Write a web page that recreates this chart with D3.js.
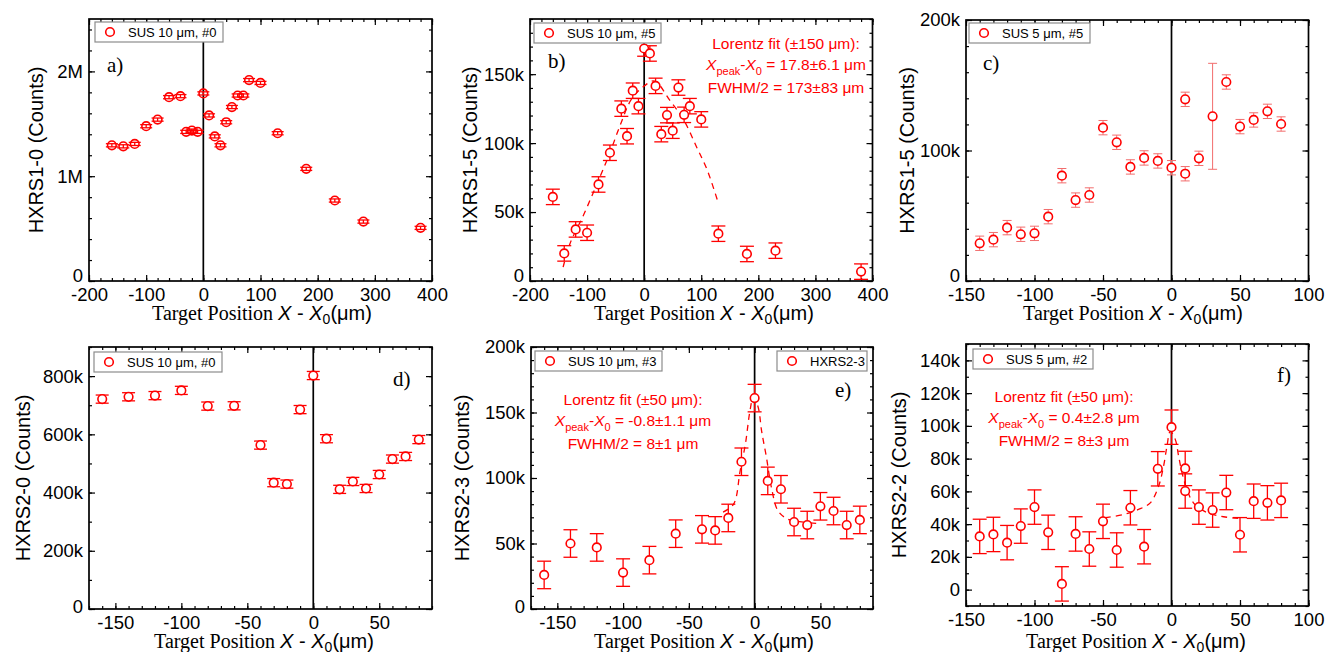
<!DOCTYPE html>
<html>
<head>
<meta charset="utf-8">
<script src="https://cdn.jsdelivr.net/npm/d3@7"></script>
<style>
  body { margin: 0; background: #fff; }
</style>
</head>
<body>
<div id="chart"></div>
<script>
// ---- data (counts in thousands) ----
var aX = [-160, -140, -120, -100, -80, -60, -40, -30, -20, -10, 0, 10, 20, 30, 40, 50, 60, 70, 80, 100, 130, 180, 230, 280, 380];
var aY = [1295, 1285, 1308, 1477, 1540, 1754, 1764, 1423, 1435, 1423, 1790, 1580, 1380, 1295, 1515, 1660, 1770, 1770, 1917, 1890, 1410, 1070, 768, 567, 507];
var aErr = 15;

var bX = [-160, -140, -120, -100, -80, -60, -40, -30, -20, -10, 0, 10, 20, 30, 40, 50, 60, 70, 80, 100, 130, 180, 230, 380];
var bY = [61, 20, 37.4, 35, 70, 93, 125, 105, 138, 126.8, 168.6, 165, 141.5, 106.5, 120.3, 109, 140.3, 120.5, 126.8, 117.2, 34.3, 19.6, 22, 6.8];
var bErr = 5.6;
var bFitX = [-142, -130, -106, -77, -60, -42, -22, -1, 18, 45, 69, 92, 110, 128];
var bFitY = [10, 27, 48, 76, 93, 113, 132, 141, 145, 131, 117, 97, 81, 59];

var cX = [-140, -130, -120, -110, -100, -90, -80, -70, -60, -50, -40, -30, -20, -10, 0, 10, 10, 20, 30, 40, 50, 60, 70, 80];
var cY = [28.9, 31.7, 40.9, 35.8, 36.5, 49.3, 80.7, 62, 65.9, 117.5, 106.3, 87.4, 94.3, 92, 86.8, 82.2, 139.2, 94, 126.2, 152.5, 118.3, 123.4, 130, 120.3];
var cErr = [5.5, 5.5, 5.5, 5.5, 5.5, 5.5, 5.5, 5.5, 5.5, 5.5, 5.5, 5.5, 5.5, 5.5, 5.5, 5.5, 5.5, 5.5, 40.6, 5.5, 5.5, 5.5, 5.5, 5.5];

var dX = [-160, -140, -120, -100, -80, -60, -40, -30, -20, -10, 0, 10, 20, 30, 40, 50, 60, 70, 80];
var dY = [721, 729, 733, 751, 697, 698, 563, 434, 429, 685, 802, 585, 411, 438, 414, 462, 515, 524, 582];
var dErr = 14;

var eX = [-160, -140, -120, -100, -80, -60, -40, -30, -20, -10, 0, 10, 20, 30, 40, 50, 60, 70, 80];
var eY = [26, 50, 47, 27.8, 37.3, 57.5, 60.8, 60, 69.5, 112.4, 161, 97.8, 91.4, 66.4, 64.1, 78.4, 74.8, 64.1, 68];
var eErr = 10.5;
var eFitX = [-24, -16, -11, -7, -3.5, -1, 2.7, 5.3, 9, 12.8, 17.8, 25.4, 34, 50];
var eFitY = [74, 80, 105.5, 126, 151.5, 161.7, 154, 136, 115.7, 92.7, 74.9, 68.5, 66.7, 65];

var fX = [-140, -130, -120, -110, -100, -90, -80, -70, -60, -50, -40, -30, -20, -10, 0, 10, 10, 20, 30, 40, 50, 60, 70, 80];
var fY = [32.5, 33.7, 28.7, 38.8, 50.4, 35, 3.5, 34, 24.8, 41.7, 24.2, 50, 26.2, 73.8, 99.2, 74, 60.2, 50.4, 48.6, 59.3, 33.5, 54, 53, 54.5];
var fErr = 10.5;
var fFitX = [-48.6, -35, -24, -15.5, -9.4, -5.8, -3.3, -0.9, 2.8, 5.2, 7.7, 11.3, 16, 26, 38, 50];
var fFitY = [43.9, 45.9, 49, 53, 63.2, 75.4, 87.6, 96.7, 91.6, 81.5, 71.3, 61.2, 53, 47, 44.5, 43.5];

var sans = "'Liberation Sans', Arial, sans-serif";
var serif = "'Liberation Serif', 'Times New Roman', serif";
var red = "#ff0000";

var svg = d3.select("#chart").append("svg")
    .attr("width", 1325)
    .attr("height", 652)
    .style("background", "#fff");

// tick label format: 0, 50k, 1M ...
function fmtCounts(v) {
  if (v === 0) return "0";
  if (Math.abs(v) >= 1000) return (v / 1000) + "M";
  return v + "k";
}

function range(a, b, s) {
  var out = [];
  for (var v = a; v <= b + 1e-9; v += s) out.push(Math.round(v * 1000) / 1000);
  return out;
}

function drawPanel(p) {
  var x = d3.scaleLinear().domain(p.xDomain).range([p.left, p.right]);
  var y = d3.scaleLinear().domain(p.yDomain).range([p.bottom, p.top]);
  var g = svg.append("g");

  var xMinor = range(p.xDomain[0], p.xDomain[1], p.xMinorStep);
  var yMinor = range(Math.ceil(p.yDomain[0] / p.yMinorStep) * p.yMinorStep, p.yDomain[1], p.yMinorStep);

  // minor ticks, all four sides, pointing inward
  g.append("g").attr("transform", "translate(0," + p.bottom + ")")
    .call(d3.axisBottom(x).tickValues(xMinor).tickSize(-3).tickFormat(""));
  g.append("g").attr("transform", "translate(0," + p.top + ")")
    .call(d3.axisTop(x).tickValues(xMinor).tickSize(-3).tickFormat(""));
  g.append("g").attr("transform", "translate(" + p.left + ",0)")
    .call(d3.axisLeft(y).tickValues(yMinor).tickSize(-3).tickFormat(""));
  g.append("g").attr("transform", "translate(" + p.right + ",0)")
    .call(d3.axisRight(y).tickValues(yMinor).tickSize(-3).tickFormat(""));

  // major ticks + labels
  g.append("g").attr("class", "xlab").attr("transform", "translate(0," + p.bottom + ")")
    .call(d3.axisBottom(x).tickValues(p.xTicks).tickSize(-6).tickPadding(7).tickFormat(function(d) { return d; }));
  g.append("g").attr("transform", "translate(0," + p.top + ")")
    .call(d3.axisTop(x).tickValues(p.xTicks).tickSize(-6).tickFormat(""));
  var yl = g.append("g").attr("class", "ylab").attr("transform", "translate(" + p.left + ",0)")
    .call(d3.axisLeft(y).tickValues(p.yTicks).tickSize(-6).tickPadding(6).tickFormat(fmtCounts));
  g.append("g").attr("transform", "translate(" + p.right + ",0)")
    .call(d3.axisRight(y).tickValues(p.yTicks).tickSize(-6).tickFormat(""));

  g.selectAll(".domain").remove();
  g.selectAll(".tick line").attr("stroke", "#000").attr("stroke-width", 1.2);
  g.selectAll(".tick text").style("font-family", sans).style("font-size", "18.5px").attr("fill", "#000");

  // the "0" label sitting on the bottom edge is nudged up, as in the figure
  if (p.zeroLift) {
    yl.selectAll(".tick text").filter(function(d) { return d === p.yDomain[0]; })
      .attr("y", -p.zeroLift);
  }

  // vertical line at X = X0
  g.append("line")
    .attr("x1", x(0)).attr("x2", x(0))
    .attr("y1", p.top).attr("y2", p.bottom)
    .attr("stroke", "#000").attr("stroke-width", 1.7);

  // Lorentz fit, dashed
  if (p.fitX) {
    var fit = p.fitX.map(function(v, i) { return [v, p.fitY[i]]; });
    g.append("path")
      .datum(fit)
      .attr("fill", "none")
      .attr("stroke", red)
      .attr("stroke-width", 1.3)
      .attr("stroke-dasharray", "6,5")
      .attr("d", d3.line().curve(d3.curveCatmullRom)
        .x(function(d) { return x(d[0]); })
        .y(function(d) { return y(d[1]); }));
  }

  var pts = p.xs.map(function(v, i) {
    return { x: v, y: p.ys[i], e: Array.isArray(p.err) ? p.err[i] : p.err };
  });

  // error bars
  var eb = g.append("g").attr("stroke", p.errColor || red).attr("stroke-width", p.errWidth || 1.3);
  var cap = p.capHalf || 7;
  eb.selectAll(".ev").data(pts).enter().append("line")
    .attr("x1", function(d) { return x(d.x); }).attr("x2", function(d) { return x(d.x); })
    .attr("y1", function(d) { return y(d.y - d.e); }).attr("y2", function(d) { return y(d.y + d.e); });
  eb.selectAll(".et").data(pts).enter().append("line")
    .attr("x1", function(d) { return x(d.x) - cap; }).attr("x2", function(d) { return x(d.x) + cap; })
    .attr("y1", function(d) { return y(d.y + d.e); }).attr("y2", function(d) { return y(d.y + d.e); });
  eb.selectAll(".eb").data(pts).enter().append("line")
    .attr("x1", function(d) { return x(d.x) - cap; }).attr("x2", function(d) { return x(d.x) + cap; })
    .attr("y1", function(d) { return y(d.y - d.e); }).attr("y2", function(d) { return y(d.y - d.e); });

  // markers
  g.selectAll(".dot").data(pts).enter().append("circle")
    .attr("cx", function(d) { return x(d.x); })
    .attr("cy", function(d) { return y(d.y); })
    .attr("r", 4.3)
    .attr("fill", p.markFill)
    .attr("stroke", red)
    .attr("stroke-width", 1.6);

  // legend boxes
  p.legends.forEach(function(L) {
    var lg = g.append("g").attr("transform", "translate(" + L.x + "," + L.y + ")");
    lg.append("rect").attr("width", L.w).attr("height", 20)
      .attr("fill", "#fff").attr("stroke", "#8c8c8c").attr("stroke-width", 1.2);
    lg.append("circle").attr("cx", 15).attr("cy", 10).attr("r", 4.3)
      .attr("fill", "#fff").attr("stroke", red).attr("stroke-width", 1.6);
    lg.append("text").attr("x", 33).attr("y", 15)
      .style("font-family", sans).style("font-size", "13px")
      .text(L.text);
  });

  // panel letter
  g.append("text").attr("x", p.tag[0]).attr("y", p.tag[1])
    .style("font-family", serif).style("font-size", "21px")
    .text(p.tag[2]);

  // frame
  g.append("rect")
    .attr("x", p.left).attr("y", p.top)
    .attr("width", p.right - p.left).attr("height", p.bottom - p.top)
    .attr("fill", "none").attr("stroke", "#000").attr("stroke-width", 1.7);

  // y axis title
  g.append("text")
    .attr("transform", "translate(" + p.yTitleX + "," + ((p.top + p.bottom) / 2) + ") rotate(-90)")
    .attr("text-anchor", "middle")
    .attr("dominant-baseline", "central")
    .style("font-family", sans).style("font-size", "20px")
    .text(p.yTitle);

  // x axis title: Target Position X - X0(µm)
  var xt = g.append("text")
    .attr("x", p.xTitleX).attr("y", p.xTitleY)
    .attr("text-anchor", "middle")
    .style("font-size", "20px");
  xt.append("tspan").style("font-family", serif).text("Target Position ");
  xt.append("tspan").style("font-family", sans).style("font-style", "italic").text("X");
  xt.append("tspan").style("font-family", sans).text(" - ");
  xt.append("tspan").style("font-family", sans).style("font-style", "italic").text("X");
  xt.append("tspan").style("font-family", sans).style("font-size", "14px").attr("dy", 4).text("0");
  xt.append("tspan").style("font-family", sans).attr("dy", -4).text("(\u03bcm)");

  // fit annotation
  if (p.note) {
    var n = p.note;
    g.append("text").attr("x", n.x).attr("y", n.y)
      .attr("text-anchor", "middle").attr("fill", red)
      .style("font-family", sans).style("font-size", "15.5px")
      .text(n.lines[0]);
    var t2 = g.append("text").attr("x", n.x).attr("y", n.y + 21)
      .attr("text-anchor", "middle").attr("fill", red)
      .style("font-family", sans).style("font-size", "15.5px");
    t2.append("tspan").style("font-style", "italic").text("X");
    t2.append("tspan").style("font-size", "11px").attr("dy", 5).text("peak");
    t2.append("tspan").attr("dy", -5).text("-");
    t2.append("tspan").style("font-style", "italic").text("X");
    t2.append("tspan").style("font-size", "11px").attr("dy", 5).text("0");
    t2.append("tspan").attr("dy", -5).text(n.lines[1]);
    g.append("text").attr("x", n.x).attr("y", n.y + 44)
      .attr("text-anchor", "middle").attr("fill", red)
      .style("font-family", sans).style("font-size", "15.5px")
      .text(n.lines[2]);
  }
}

var row1 = { top: 19, bottom: 281 };
var row2 = { top: 347, bottom: 609 };

drawPanel({
  left: 89, right: 432, top: row1.top, bottom: row1.bottom,
  xDomain: [-200, 400], xTicks: [-200, -100, 0, 100, 200, 300, 400], xMinorStep: 20,
  yDomain: [0, 2500], yTicks: [0, 1000, 2000], yMinorStep: 200, zeroLift: 5,
  xs: aX, ys: aY, err: aErr, markFill: "none", capHalf: 6,
  legends: [{ x: 95, y: 22, w: 128, text: "SUS 10 \u03bcm, #0" }],
  tag: [107, 72, "a)"],
  yTitle: "HXRS1-0 (Counts)", yTitleX: 36,
  xTitleX: 262, xTitleY: 320
});

drawPanel({
  left: 530, right: 872.5, top: row1.top, bottom: row1.bottom,
  xDomain: [-200, 400], xTicks: [-200, -100, 0, 100, 200, 300, 400], xMinorStep: 20,
  yDomain: [0, 190], yTicks: [0, 50, 100, 150], yMinorStep: 10, zeroLift: 5,
  xs: bX, ys: bY, err: bErr, markFill: "#fff", capHalf: 7,
  fitX: bFitX, fitY: bFitY,
  legends: [{ x: 534, y: 23, w: 127, text: "SUS 10 \u03bcm, #5" }],
  tag: [548, 68, "b)"],
  yTitle: "HXRS1-5 (Counts)", yTitleX: 470,
  xTitleX: 704, xTitleY: 320,
  note: { x: 786, y: 49, lines: ["Lorentz fit (\u00b1150 \u03bcm):", " = 17.8\u00b16.1 \u03bcm", "FWHM/2 = 173\u00b183 \u03bcm"] }
});

drawPanel({
  left: 966, right: 1308.5, top: 20, bottom: row1.bottom,
  xDomain: [-150, 100], xTicks: [-150, -100, -50, 0, 50, 100], xMinorStep: 10,
  yDomain: [0, 200], yTicks: [0, 100, 200], yMinorStep: 20, zeroLift: 5,
  xs: cX, ys: cY, err: cErr, markFill: "#fff", capHalf: 4.5,
  errColor: "#f26d6d", errWidth: 1,
  legends: [{ x: 969, y: 23, w: 121, text: "SUS 5 \u03bcm, #5" }],
  tag: [983, 70, "c)"],
  yTitle: "HXRS1-5 (Counts)", yTitleX: 907,
  xTitleX: 1133, xTitleY: 320
});

drawPanel({
  left: 89, right: 432, top: row2.top, bottom: row2.bottom,
  xDomain: [-170, 90], xTicks: [-150, -100, -50, 0, 50], xMinorStep: 10,
  yDomain: [0, 900], yTicks: [0, 200, 400, 600, 800], yMinorStep: 100, zeroLift: 2,
  xs: dX, ys: dY, err: dErr, markFill: "#fff", capHalf: 6.5,
  legends: [{ x: 94, y: 352, w: 128, text: "SUS 10 \u03bcm, #0" }],
  tag: [393, 386, "d)"],
  yTitle: "HXRS2-0 (Counts)", yTitleX: 23,
  xTitleX: 264, xTitleY: 648
});

drawPanel({
  left: 531, right: 873, top: row2.top, bottom: row2.bottom,
  xDomain: [-170, 90], xTicks: [-150, -100, -50, 0, 50], xMinorStep: 10,
  yDomain: [0, 200], yTicks: [0, 50, 100, 150, 200], yMinorStep: 10, zeroLift: 2,
  xs: eX, ys: eY, err: eErr, markFill: "#fff", capHalf: 7,
  fitX: eFitX, fitY: eFitY,
  legends: [{ x: 535, y: 351, w: 127, text: "SUS 10 \u03bcm, #3" },
            { x: 777, y: 351, w: 90, text: "HXRS2-3" }],
  tag: [835, 397, "e)"],
  yTitle: "HXRS2-3 (Counts)", yTitleX: 462,
  xTitleX: 704, xTitleY: 648,
  note: { x: 633, y: 405, lines: ["Lorentz fit (\u00b150 \u03bcm):", " = -0.8\u00b11.1 \u03bcm", "FWHM/2 = 8\u00b11 \u03bcm"] }
});

drawPanel({
  left: 966, right: 1308.5, top: 344, bottom: 606,
  xDomain: [-150, 100], xTicks: [-150, -100, -50, 0, 50, 100], xMinorStep: 10,
  yDomain: [-10, 150], yTicks: [0, 20, 40, 60, 80, 100, 120, 140], yMinorStep: 10,
  xs: fX, ys: fY, err: fErr, markFill: "#fff", capHalf: 7,
  fitX: fFitX, fitY: fFitY,
  legends: [{ x: 973, y: 349, w: 120, text: "SUS 5 \u03bcm, #2" }],
  tag: [1277, 382, "f)"],
  yTitle: "HXRS2-2 (Counts)", yTitleX: 899,
  xTitleX: 1136, xTitleY: 648,
  note: { x: 1064, y: 402, lines: ["Lorentz fit (\u00b150 \u03bcm):", " = 0.4\u00b12.8 \u03bcm", "FWHM/2 = 8\u00b13 \u03bcm"] }
});
</script>
</body>
</html>
